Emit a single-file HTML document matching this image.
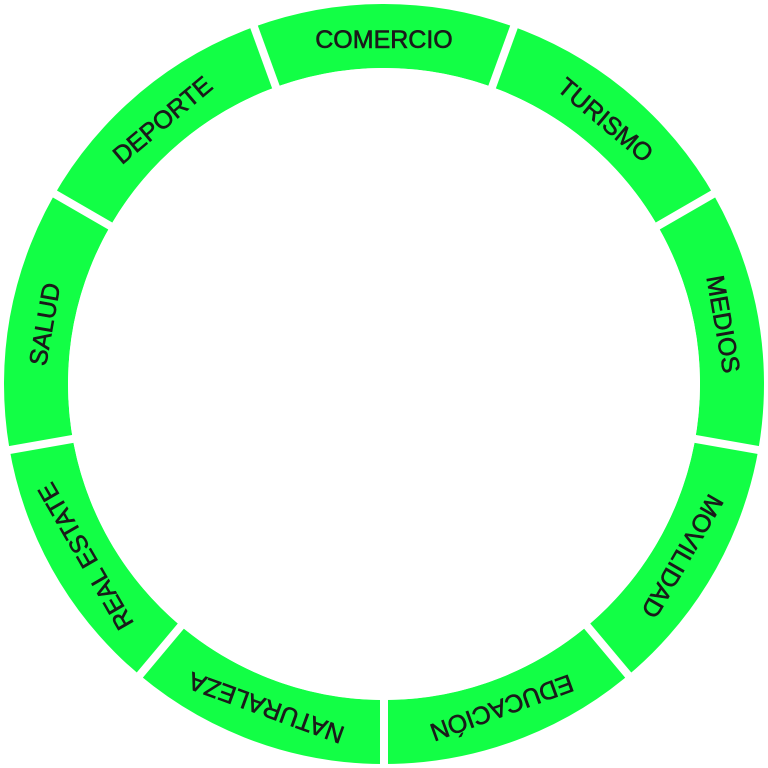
<!DOCTYPE html>
<html><head><style>html,body{margin:0;padding:0;background:#fff;}svg{display:block}</style></head>
<body>
<svg width="768" height="768" viewBox="0 0 768 768" xmlns="http://www.w3.org/2000/svg">
<circle cx="384" cy="384" r="348" fill="none" stroke="#12ff45" stroke-width="64"/>
<g stroke="#fff" stroke-width="8">
<g transform="rotate(20 384 384)"><line x1="384" y1="384" x2="384" y2="0"/></g>
<g transform="rotate(60 384 384)"><line x1="384" y1="384" x2="384" y2="0"/></g>
<g transform="rotate(100 384 384)"><line x1="384" y1="384" x2="384" y2="0"/></g>
<g transform="rotate(140 384 384)"><line x1="384" y1="384" x2="384" y2="0"/></g>
<g transform="rotate(180 384 384)"><line x1="384" y1="384" x2="384" y2="0"/></g>
<g transform="rotate(220 384 384)"><line x1="384" y1="384" x2="384" y2="0"/></g>
<g transform="rotate(260 384 384)"><line x1="384" y1="384" x2="384" y2="0"/></g>
<g transform="rotate(300 384 384)"><line x1="384" y1="384" x2="384" y2="0"/></g>
<g transform="rotate(340 384 384)"><line x1="384" y1="384" x2="384" y2="0"/></g>
</g>
<circle cx="384" cy="384" r="316" fill="#fff"/>
<g font-family="Liberation Sans, sans-serif" font-size="25" fill="#1a1a1a" stroke="#1a1a1a" stroke-width="0.6" text-anchor="middle" dominant-baseline="central">
<text transform="rotate(0 384 384)" x="384" y="40">COMERCIO</text>
<text transform="rotate(40 384 384)" x="384" y="40">TURISMO</text>
<text transform="rotate(80 384 384)" x="384" y="40">MEDIOS</text>
<text transform="rotate(120 384 384)" x="384" y="40">MOVILIDAD</text>
<text transform="rotate(160 384 384)" x="384" y="40">EDUCACIÓN</text>
<text transform="rotate(200 384 384)" x="384" y="40">NATURALEZA</text>
<text transform="rotate(240 384 384)" x="384" y="40">REAL ESTATE</text>
<text transform="rotate(280 384 384)" x="384" y="40">SALUD</text>
<text transform="rotate(320 384 384)" x="384" y="40">DEPORTE</text>
</g>
</svg>
</body></html>
